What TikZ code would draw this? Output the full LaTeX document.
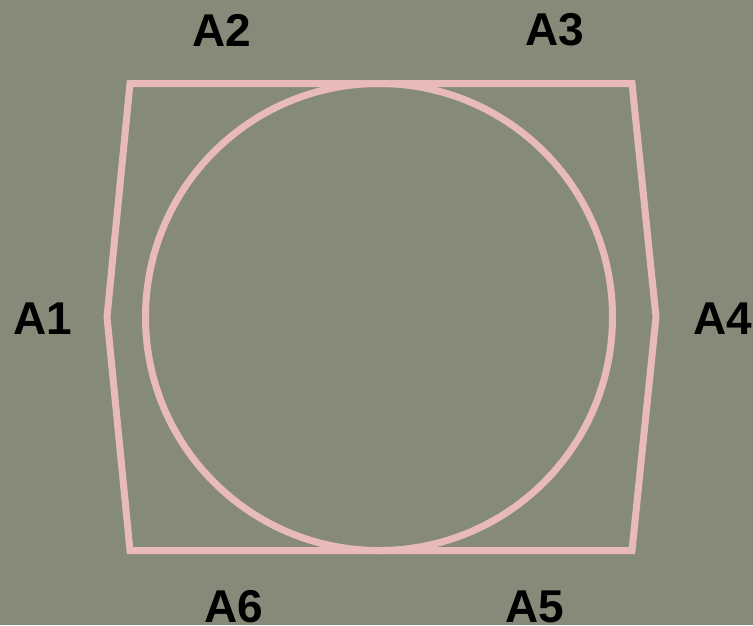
\documentclass[tikz,border=0pt]{standalone}
\usepackage{fontspec}
\setmainfont{Liberation Sans}
\definecolor{bg}{RGB}{134,138,120}
\definecolor{pinkline}{RGB}{232,186,186}
\begin{document}
\begin{tikzpicture}[x=1pt,y=-1pt,
  shape line/.style={draw=pinkline,line width=7pt,line join=miter},
  lbl/.style={inner sep=0pt,font=\fontsize{46}{50}\selectfont\bfseries,text=black}]
\fill[bg] (0,0) rectangle (753,625);
\useasboundingbox (0,0) rectangle (753,625);
\coordinate (A1) at (107,317);
\coordinate (A2) at (130,83.5);
\coordinate (A3) at (632,83.5);
\coordinate (A4) at (656,317);
\coordinate (A5) at (632,550.5);
\coordinate (A6) at (130,550.5);
\draw[shape line] (A1) -- (A2) -- (A3) -- (A4) -- (A5) -- (A6) -- cycle;
\node[shape line,circle,inner sep=0pt,minimum size=467pt] (c) at (379,317) {};
\node[lbl] (l1) at (43,319) {A1};
\node[lbl] (l2) at (222,30) {A2};
\node[lbl] (l3) at (555,30) {A3};
\node[lbl] (l4) at (723,319) {A4};
\node[lbl] (l5) at (535,606.5) {A5};
\node[lbl] (l6) at (234,606.5) {A6};
\end{tikzpicture}
\end{document}
